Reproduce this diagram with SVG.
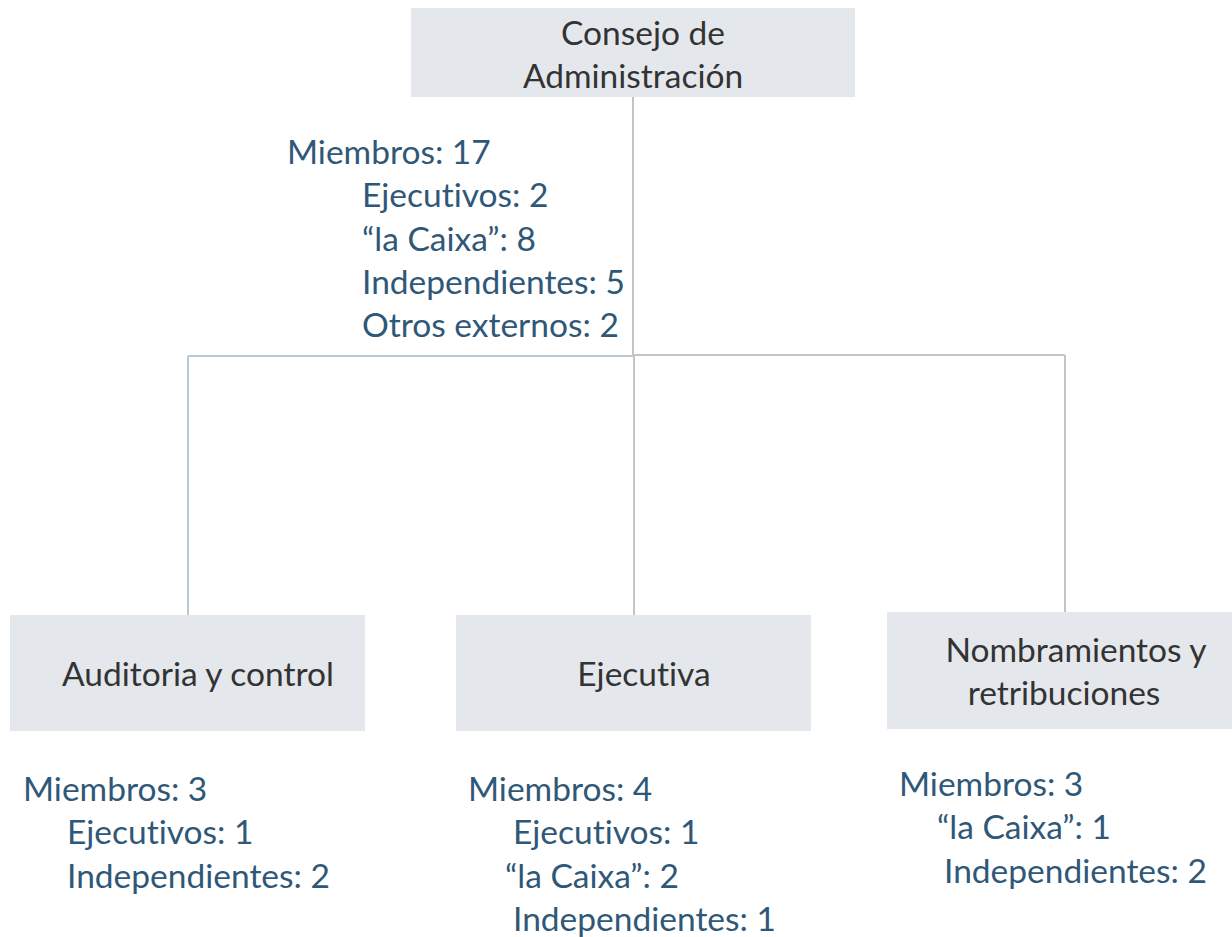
<svg xmlns="http://www.w3.org/2000/svg" width="1232" height="937" viewBox="0 0 1232 937">
<style>
.box{fill:#e4e8ec}
.bt{font-family:Lato,"Open Sans",sans-serif;font-size:33.5px;fill:#333333;font-variant-ligatures:none}
.mt{font-family:Lato,"Open Sans",sans-serif;font-size:33.5px;fill:#2f5878;font-variant-ligatures:none}
.lb{stroke:#b9c9d6;stroke-width:2;fill:none}
.lg{stroke:#c4c4c4;stroke-width:2;fill:none}
</style>
<rect width="1232" height="937" fill="#ffffff"/>
<g id="connectors">
<line class="lg" x1="633" y1="97" x2="633" y2="355"/>
<line class="lb" x1="188" y1="356" x2="634" y2="356"/>
<line class="lg" x1="633" y1="355" x2="1065" y2="355"/>
<line class="lb" x1="188" y1="356" x2="188" y2="615"/>
<line class="lg" x1="634" y1="355" x2="634" y2="615"/>
<line class="lg" x1="1065" y1="355" x2="1065" y2="612"/>
</g>
<g id="consejo">
<rect class="box" x="411" y="8" width="444" height="89"/>
<text class="bt" x="643" y="45" text-anchor="middle">Consejo de</text>
<text class="bt" x="633" y="88" text-anchor="middle">Administración</text>
</g>
<g id="consejo-miembros">
<text class="mt" x="287" y="164">Miembros: 17</text>
<text class="mt" x="362" y="207">Ejecutivos: 2</text>
<text class="mt" x="362" y="251">“la Caixa”: 8</text>
<text class="mt" x="362" y="294">Independientes: 5</text>
<text class="mt" x="362" y="337">Otros externos: 2</text>
</g>
<g id="auditoria">
<rect class="box" x="10" y="615" width="355" height="116"/>
<text class="bt" x="198" y="686" text-anchor="middle">Auditoria y control</text>
</g>
<g id="auditoria-miembros">
<text class="mt" x="23" y="801">Miembros: 3</text>
<text class="mt" x="67" y="844">Ejecutivos: 1</text>
<text class="mt" x="67" y="888">Independientes: 2</text>
</g>
<g id="ejecutiva">
<rect class="box" x="456" y="615" width="355" height="116"/>
<text class="bt" x="644" y="686" text-anchor="middle">Ejecutiva</text>
</g>
<g id="ejecutiva-miembros">
<text class="mt" x="468" y="801">Miembros: 4</text>
<text class="mt" x="513" y="844">Ejecutivos: 1</text>
<text class="mt" x="505" y="888">“la Caixa”: 2</text>
<text class="mt" x="513" y="931">Independientes: 1</text>
</g>
<g id="nombramientos">
<rect class="box" x="887" y="612" width="345" height="117"/>
<text class="bt" x="1076" y="662" text-anchor="middle">Nombramientos y</text>
<text class="bt" x="1064" y="705" text-anchor="middle">retribuciones</text>
</g>
<g id="nombramientos-miembros">
<text class="mt" x="899" y="796">Miembros: 3</text>
<text class="mt" x="937" y="839">“la Caixa”: 1</text>
<text class="mt" x="944" y="883">Independientes: 2</text>
</g>
</svg>
